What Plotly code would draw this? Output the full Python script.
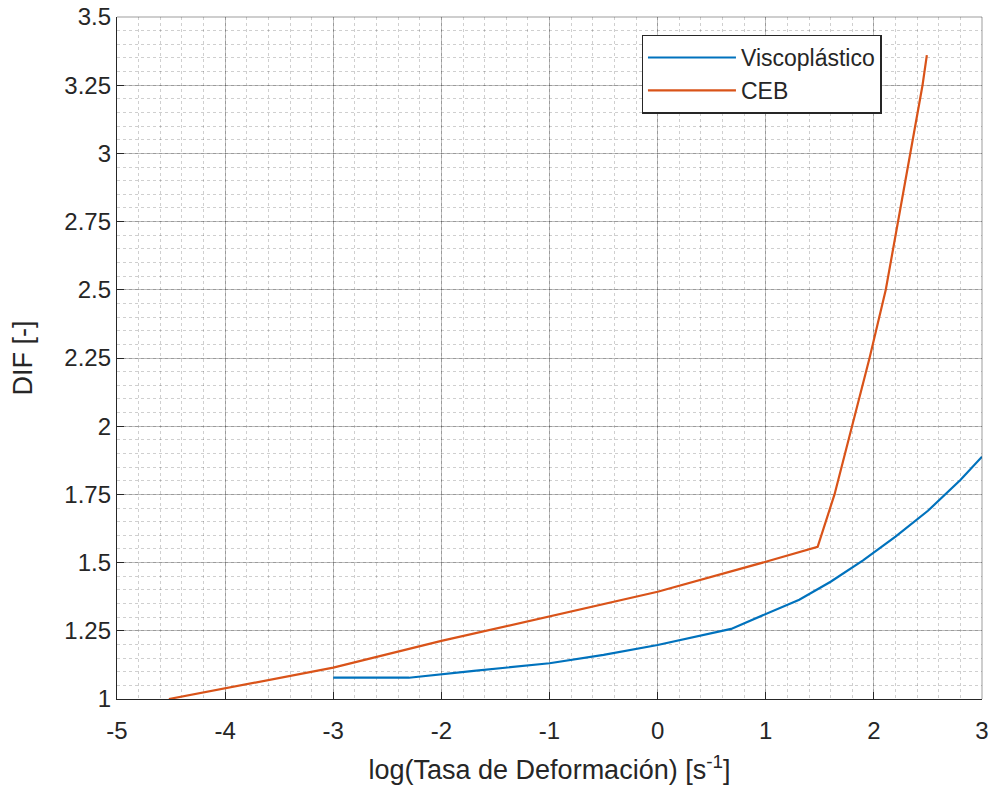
import plotly.graph_objects as go

# Data
visco_x = [-3.0, -2.3, -1.7, -1.0, -0.5, 0.0, 0.68, 1.0, 1.31, 1.6, 1.9, 2.2, 2.5, 2.8, 3.0]
visco_y = [1.078, 1.078, 1.103, 1.131, 1.162, 1.198, 1.257, 1.31, 1.364, 1.43, 1.508, 1.595, 1.69, 1.803, 1.888]

ceb_x = [-4.52, -4.0, -3.0, -2.0, -1.0, 0.0, 1.0, 1.48, 1.636, 1.80, 1.96, 2.11, 2.225, 2.34, 2.45, 2.49]
ceb_y = [1.0, 1.04, 1.115, 1.213, 1.302, 1.393, 1.503, 1.558, 1.75, 2.0, 2.25, 2.5, 2.75, 3.0, 3.25, 3.36]

series_names = ["Viscoplástico", "CEB"]
x_ticks = [-5, -4, -3, -2, -1, 0, 1, 2, 3]
y_ticks = [1, 1.25, 1.5, 1.75, 2, 2.25, 2.5, 2.75, 3, 3.25, 3.5]
y_tick_labels = ["1", "1.25", "1.5", "1.75", "2", "2.25", "2.5", "2.75", "3", "3.25", "3.5"]

FONT = "Liberation Sans, Arial, Helvetica, sans-serif"
AXC = "#262626"

fig = go.Figure()
fig.add_trace(go.Scatter(x=visco_x, y=visco_y, mode="lines", name=series_names[0],
                         line=dict(color="#0072BD", width=2.2)))
fig.add_trace(go.Scatter(x=ceb_x, y=ceb_y, mode="lines", name=series_names[1],
                         line=dict(color="#D95319", width=2.2)))

common = dict(
    showline=True, linecolor=AXC, linewidth=1.3, mirror=False,
    ticks="inside", ticklen=7, tickcolor=AXC, tickwidth=1.3,
    showgrid=True, gridcolor="rgba(38,38,38,0.30)", gridwidth=1,
    zeroline=False, ticklabeloverflow="allow", automargin=False,
    tickfont=dict(family=FONT, size=24, color=AXC),
)

fig.update_xaxes(range=[-5, 3], tickvals=x_ticks, ticktext=[str(v) for v in x_ticks],
                 ticklabelstandoff=10,
                 title=dict(text="log(Tasa de Deformación) [s<sup>-1</sup>]",
                            font=dict(family=FONT, size=27, color=AXC), standoff=17),
                 minor=dict(showgrid=True, gridcolor="rgba(38,38,38,0.22)", griddash="3px,3px",
                            gridwidth=1, dtick=0.2, tick0=-5, ticks=""),
                 **common)
fig.update_yaxes(range=[1, 3.5], tickvals=y_ticks, ticktext=y_tick_labels,
                 title=dict(text="DIF [-]", font=dict(family=FONT, size=27, color=AXC), standoff=23),
                 minor=dict(showgrid=True, gridcolor="rgba(38,38,38,0.22)", griddash="3px,3px",
                            gridwidth=1, dtick=0.05, tick0=1, ticks=""),
                 **common)

# light box on top/right, as in the original
fig.add_shape(type="line", xref="paper", yref="paper", x0=0, x1=1, y0=1, y1=1,
              line=dict(color="rgba(38,38,38,0.45)", width=1))
fig.add_shape(type="line", xref="paper", yref="paper", x0=1, x1=1, y0=0, y1=1,
              line=dict(color="rgba(38,38,38,0.45)", width=1))

fig.update_layout(
    width=992, height=796,
    margin=dict(l=117, r=10, t=17, b=97, autoexpand=False),
    paper_bgcolor="white", plot_bgcolor="white",
    font=dict(family=FONT, color=AXC),
    legend=dict(x=0.884, y=0.974, xanchor="right", yanchor="top",
                bgcolor="white", bordercolor=AXC, borderwidth=1.3,
                font=dict(family=FONT, size=23, color=AXC),
                itemwidth=88, tracegroupgap=0),
)

fig.write_html("out.html", config={"displayModeBar": False},
               post_script="document.body.style.margin='0';document.body.style.overflow='hidden';")
